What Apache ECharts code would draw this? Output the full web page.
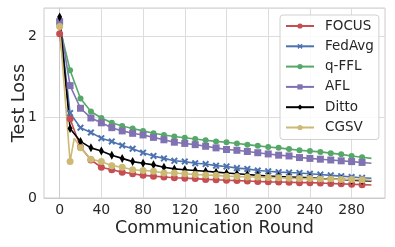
<!DOCTYPE html>
<html><head><meta charset="utf-8">
<script src="https://cdn.jsdelivr.net/npm/echarts@6/dist/echarts.min.js"></script>
<style>html,body{margin:0;padding:0;background:#fff}#c{width:395px;height:247px}</style>
</head><body><div id="c"></div>
<script>
const rounds = [0,10,20,30,40,50,60,70,80,90,100,110,120,130,140,150,160,170,180,190,200,210,220,230,240,250,260,270,280,290,299];
const cgsvRounds = [0,10,14,20,30,40,50,60,70,80,90,100,110,120,130,140,150,160,170,180,190,200,210,220,230,240,250,260,270,280,290,299];
const focus = [2.03,0.98,0.63,0.47,0.38,0.35,0.32,0.30,0.28,0.27,0.26,0.25,0.245,0.24,0.23,0.225,0.22,0.215,0.21,0.205,0.20,0.198,0.195,0.19,0.19,0.185,0.18,0.175,0.17,0.165,0.16];
const fedavg = [2.18,1.05,0.87,0.81,0.74,0.70,0.65,0.61,0.56,0.52,0.49,0.46,0.45,0.43,0.42,0.40,0.39,0.37,0.36,0.34,0.33,0.32,0.315,0.31,0.30,0.29,0.28,0.27,0.26,0.25,0.245];
const qffl = [2.12,1.58,1.23,1.07,0.99,0.93,0.89,0.86,0.83,0.80,0.78,0.76,0.745,0.73,0.715,0.70,0.69,0.675,0.66,0.645,0.63,0.62,0.605,0.59,0.58,0.57,0.555,0.54,0.52,0.505,0.49];
const afl = [2.18,1.39,1.11,0.99,0.93,0.87,0.83,0.80,0.78,0.75,0.72,0.69,0.675,0.66,0.64,0.62,0.60,0.59,0.575,0.56,0.545,0.53,0.52,0.50,0.49,0.48,0.47,0.46,0.45,0.44,0.43];
const ditto = [2.24,0.86,0.70,0.62,0.58,0.53,0.49,0.45,0.43,0.41,0.38,0.36,0.35,0.34,0.33,0.32,0.31,0.30,0.29,0.28,0.27,0.265,0.26,0.255,0.25,0.24,0.235,0.23,0.22,0.215,0.21];
const cgsv = [2.12,0.45,0.74,0.62,0.48,0.45,0.40,0.38,0.35,0.34,0.33,0.31,0.31,0.30,0.29,0.285,0.28,0.27,0.265,0.26,0.26,0.255,0.25,0.245,0.24,0.24,0.235,0.235,0.23,0.23,0.225,0.22];
const xTicks = [0,40,80,120,160,200,240,280];
const seriesNames = ['FOCUS','FedAvg','q-FFL','AFL','Ditto','CGSV'];

const FONT = 'DejaVu Sans';
const TXT = '#262626';
const xPath = 'path://M0,2 L2,0 L5,3 L8,0 L10,2 L7,5 L10,8 L8,10 L5,7 L2,10 L0,8 L3,5 Z';

function pairs(xs, ys){
  return xs.map((x,i)=> (x % 10 === 0) ? [x, ys[i]] : {value:[x, ys[i]], symbol:'none'});
}
function mk(name, xs, ys, color, symbol, size){
  return {
    name, type:'line', data: pairs(xs, ys),
    symbol, symbolSize: size, showAllSymbol: true, smooth: false,
    lineStyle:{color, width:1.6}, itemStyle:{color, borderWidth:0},
    color, animation:false, z: 2
  };
}

const chart = echarts.init(document.getElementById('c'), null, {renderer:'canvas'});
chart.setOption({
  animation:false,
  textStyle:{fontFamily:FONT},
  grid:{left:44, right:10, top:8, bottom:49, show:true, borderColor:'#cccccc', borderWidth:1, containLabel:false, outerBoundsMode:'none'},
  xAxis:{
    type:'value', min:-15, max:312,
    name:'Communication Round', nameLocation:'middle', nameGap:21, nameMoveOverlap:false,
    nameTextStyle:{fontFamily:FONT, fontSize:17.5, color:TXT},
    axisLine:{show:true, lineStyle:{color:'#cccccc'}},
    axisTick:{show:false, customValues:xTicks},
    axisLabel:{customValues:xTicks, fontFamily:FONT, fontSize:14, color:TXT, margin:5},
    splitLine:{show:true, lineStyle:{color:'#dcdcdc', width:1}}
  },
  yAxis:{
    type:'value', min:0, max:2.35, interval:1,
    name:'Test Loss', nameLocation:'middle', nameGap:16, nameRotate:90, nameMoveOverlap:false,
    nameTextStyle:{fontFamily:FONT, fontSize:17.5, color:TXT},
    axisLine:{show:true, lineStyle:{color:'#cccccc'}},
    axisTick:{show:false},
    axisLabel:{fontFamily:FONT, fontSize:14, color:TXT, margin:7, showMaxLabel:false},
    splitLine:{show:true, lineStyle:{color:'#dcdcdc', width:1}}
  },
  legend:{
    orient:'vertical', left:280, top:15,
    data: seriesNames,
    itemWidth:28, itemHeight:6.5, itemGap:6.3,
    padding:[4,5,5,5],
    backgroundColor:'rgba(255,255,255,0.85)', borderColor:'#d0d0d0', borderWidth:1, borderRadius:3,
    textStyle:{fontFamily:FONT, fontSize:13.5, lineHeight:14, color:TXT, padding:[0,0,0,6]}
  },
  series:[
    mk('FOCUS', rounds, focus, '#C44E52', 'circle', 7),
    mk('FedAvg', rounds, fedavg, '#4C72B0', xPath, 7),
    mk('q-FFL', rounds, qffl, '#55A868', 'circle', 6),
    mk('AFL', rounds, afl, '#8172B2', 'rect', 7),
    mk('Ditto', rounds, ditto, '#000000', 'diamond', [5,9]),
    mk('CGSV', cgsvRounds, cgsv, '#CCB974', 'circle', 7)
  ]
});
</script></body></html>
